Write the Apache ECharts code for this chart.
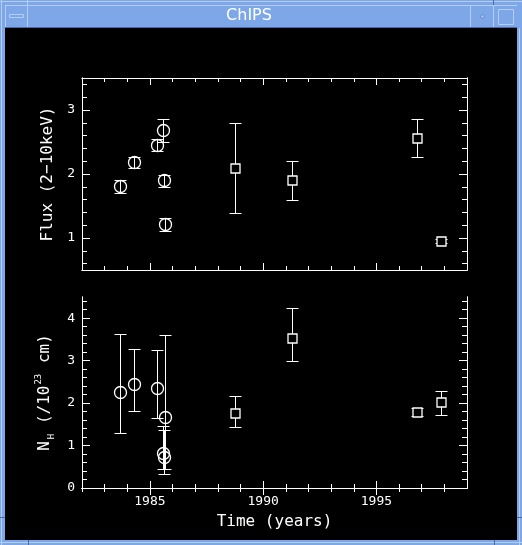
<!DOCTYPE html>
<html><head><meta charset="utf-8">
<script src="https://cdn.jsdelivr.net/npm/echarts@6/dist/echarts.min.js"></script>
<style>html,body{margin:0;padding:0;background:#000;}#c{width:522px;height:545px;}</style>
</head><body><div id="c"></div>
<script>
// ---------- data ----------
const circleYears = [1983.67, 1984.30, 1985.31, 1985.59, 1985.62, 1985.68];
const fluxCircle   = [1.81, 2.18, 2.46, 2.68, 1.90, 1.22];
const fluxCircleLo = [1.71, 2.09, 2.36, 2.50, 1.79, 1.11];
const fluxCircleHi = [1.91, 2.27, 2.55, 2.86, 1.99, 1.31];
const squareYears = [1988.74, 1991.29, 1996.78, 1997.83];
const fluxSquare   = [2.09, 1.90, 2.57, 0.95];
const fluxSquareLo = [1.39, 1.59, 2.27, 0.92];
const fluxSquareHi = [2.80, 2.20, 2.86, 0.98];
const nhCircle   = [2.27, 2.46, 2.35, 0.83, 0.72, 1.67];
const nhCircleLo = [1.30, 1.82, 1.66, 0.44, 0.32, 0.44];
const nhCircleHi = [3.64, 3.27, 3.26, 1.45, 1.36, 3.61];
const nhSquare   = [1.76, 3.54, 1.78, 2.02];
const nhSquareLo = [1.44, 2.99, 1.69, 1.73];
const nhSquareHi = [2.17, 4.25, 1.88, 2.29];
const yearMajor = [1985, 1990, 1995];
const yearMinor = [1982,1983,1984,1986,1987,1988,1989,1991,1992,1993,1994,1996,1997,1998];
const fluxMajor = [1, 2, 3];
const fluxMinor = [0.6,0.8,1.2,1.4,1.6,1.8,2.2,2.4,2.6,2.8,3.2,3.4];
const nhMajor = [0, 1, 2, 3, 4];
const nhMinor = [0.2,0.4,0.6,0.8,1.2,1.4,1.6,1.8,2.2,2.4,2.6,2.8,3.2,3.4,3.6,3.8,4.2,4.4];

// ---------- helpers ----------
const MONO = '"DejaVu Sans Mono", monospace';
const W = '#ffffff';
function zip(x, y, lo, hi){ return x.map((v,i)=>[v, y[i], lo[i], hi[i]]); }

function xAxis(grid, pos, vals, len, opts){
  return Object.assign({
    type:'value', gridIndex:grid, position:pos, min:1982, max:1999,
    axisLine:{show:true, lineStyle:{color:W, width:1}},
    axisTick:{show:true, inside:true, length:len, customValues:vals, lineStyle:{color:W, width:1}},
    axisLabel:{show:false}, splitLine:{show:false}
  }, opts||{});
}
function yAxis(grid, pos, min, max, vals, len, opts){
  return Object.assign({
    type:'value', gridIndex:grid, position:pos, min:min, max:max,
    axisLine:{show:true, lineStyle:{color:W, width:1}},
    axisTick:{show:true, inside:true, length:len, customValues:vals, lineStyle:{color:W, width:1}},
    axisLabel:{show:false}, splitLine:{show:false}
  }, opts||{});
}

function errRender(shape){
  return function(params, api){
    const x = api.value(0), y = api.value(1), lo = api.value(2), hi = api.value(3);
    const p = api.coord([x, y]);
    const pl = api.coord([x, lo]);
    const ph = api.coord([x, hi]);
    const cx = Math.round(p[0]) + 0.5;
    const cy = Math.round(p[1]) + 0.5;
    const yl = Math.round(pl[1]) + 0.5;
    const yh = Math.round(ph[1]) + 0.5;
    const cw = 6;
    const ls = {stroke:W, lineWidth:1, fill:null};
    const ch = [
      {type:'line', shape:{x1:cx, y1:yl, x2:cx, y2:yh}, style:ls},
      {type:'line', shape:{x1:cx-cw, y1:yh, x2:cx+cw, y2:yh}, style:ls},
      {type:'line', shape:{x1:cx-cw, y1:yl, x2:cx+cw, y2:yl}, style:ls}
    ];
    if (shape === 'circle') {
      ch.push({type:'circle', shape:{cx:cx, cy:cy, r:6}, style:{stroke:W, lineWidth:1.3, fill:null}});
    } else {
      ch.push({type:'rect', shape:{x:cx-4.5, y:cy-4.5, width:9, height:9}, style:{stroke:W, lineWidth:1.3, fill:'#000'}});
    }
    return {type:'group', children:ch};
  };
}
function errSeries(xi, yi, data, shape){
  return {type:'custom', xAxisIndex:xi, yAxisIndex:yi, data:data, renderItem:errRender(shape), animation:false, silent:true, clip:false};
}

const labelStyle = {show:true, color:W, fontFamily:MONO, fontSize:13, margin:7, formatter:function(v){ return String(v); }};

const xAxes = [
  // grid 0
  xAxis(0,'bottom',yearMajor,7),
  xAxis(0,'bottom',yearMinor,4),
  xAxis(0,'top',yearMajor,7),
  xAxis(0,'top',yearMinor,4),
  // grid 1
  xAxis(1,'bottom',yearMajor,7,{
    axisLabel:Object.assign({customValues:yearMajor}, labelStyle),
    name:'Time (years)', nameLocation:'middle', nameGap:26,
    nameTextStyle:{color:W, fontFamily:MONO, fontSize:16}
  }),
  xAxis(1,'bottom',yearMinor,4),
  xAxis(1,'top',yearMajor,7),
  xAxis(1,'top',yearMinor,4)
];
const yAxes = [
  yAxis(0,'left',0.5,3.5,fluxMajor,8,{
    axisLabel:Object.assign({customValues:fluxMajor}, labelStyle),
    name:'Flux (2\u221210keV)', nameLocation:'middle', nameRotate:90, nameGap:21,
    nameTextStyle:{color:W, fontFamily:MONO, fontSize:16}
  }),
  yAxis(0,'left',0.5,3.5,fluxMinor,5),
  yAxis(0,'right',0.5,3.5,fluxMajor,8),
  yAxis(0,'right',0.5,3.5,fluxMinor,5),
  yAxis(1,'left',0,4.5,nhMajor,8,{
    axisLabel:Object.assign({customValues:nhMajor}, labelStyle),
    name:'{n|N}{s|H}{n| (/10}{p|23}{n| cm)}', nameLocation:'middle', nameRotate:90, nameGap:21,
    nameTextStyle:{color:W, fontFamily:MONO, fontSize:16,
      rich:{
        n:{color:W, fontFamily:MONO, fontSize:16, lineHeight:22, verticalAlign:'middle'},
        s:{color:W, fontFamily:MONO, fontSize:9, lineHeight:22, verticalAlign:'bottom', padding:[0,0,0,2]},
        p:{color:W, fontFamily:MONO, fontSize:9, lineHeight:22, verticalAlign:'top', padding:[0,1,0,1]}
      }}
  }),
  yAxis(1,'left',0,4.5,nhMinor,5),
  yAxis(1,'right',0,4.5,nhMajor,8),
  yAxis(1,'right',0,4.5,nhMinor,5)
];

// window chrome
const BLUE = '#7ea7e8', LIGHT = '#b4cdf5', DARK = '#4a6aa6';
const chrome = [
  {type:'rect', shape:{x:0,y:0,width:522,height:545}, style:{fill:BLUE}, z:-10},
  {type:'rect', shape:{x:5,y:28,width:512,height:512}, style:{fill:'#000'}, z:-9},
  {type:'line', shape:{x1:0,y1:1.5,x2:522,y2:1.5}, style:{stroke:LIGHT,lineWidth:1}, z:-8},
  {type:'line', shape:{x1:1.5,y1:0,x2:1.5,y2:545}, style:{stroke:LIGHT,lineWidth:1}, z:-8},
  {type:'line', shape:{x1:5,y1:5.5,x2:517,y2:5.5}, style:{stroke:LIGHT,lineWidth:1}, z:-8},
  {type:'line', shape:{x1:5.5,y1:5,x2:5.5,y2:27}, style:{stroke:LIGHT,lineWidth:1}, z:-8},
  {type:'line', shape:{x1:5,y1:27.5,x2:517,y2:27.5}, style:{stroke:DARK,lineWidth:1}, z:-8},
  {type:'line', shape:{x1:27.5,y1:5,x2:27.5,y2:27}, style:{stroke:LIGHT,lineWidth:1}, z:-8},
  {type:'line', shape:{x1:470.5,y1:5,x2:470.5,y2:27}, style:{stroke:LIGHT,lineWidth:1}, z:-8},
  {type:'line', shape:{x1:493.5,y1:5,x2:493.5,y2:27}, style:{stroke:LIGHT,lineWidth:1}, z:-8},
  {type:'line', shape:{x1:27.5,y1:0,x2:27.5,y2:5}, style:{stroke:LIGHT,lineWidth:1}, z:-8},
  {type:'line', shape:{x1:493.5,y1:0,x2:493.5,y2:5}, style:{stroke:DARK,lineWidth:1}, z:-8},
  {type:'line', shape:{x1:519.5,y1:28,x2:519.5,y2:545}, style:{stroke:LIGHT,lineWidth:1}, z:-8},
  {type:'line', shape:{x1:0,y1:542.5,x2:522,y2:542.5}, style:{stroke:LIGHT,lineWidth:1}, z:-8},
  {type:'line', shape:{x1:517,y1:517.5,x2:522,y2:517.5}, style:{stroke:DARK,lineWidth:1}, z:-8},
  {type:'line', shape:{x1:494.5,y1:540,x2:494.5,y2:545}, style:{stroke:DARK,lineWidth:1}, z:-8},
  {type:'line', shape:{x1:28.5,y1:540,x2:28.5,y2:545}, style:{stroke:DARK,lineWidth:1}, z:-8},
  {type:'line', shape:{x1:0,y1:517.5,x2:5,y2:517.5}, style:{stroke:DARK,lineWidth:1}, z:-8},
  {type:'rect', shape:{x:9.5,y:14.5,width:14,height:3}, style:{fill:BLUE, stroke:LIGHT, lineWidth:1}, z:-7},
  {type:'rect', shape:{x:481,y:15,width:3,height:3}, style:{fill:LIGHT, stroke:DARK, lineWidth:0.5}, z:-7},
  {type:'rect', shape:{x:498.5,y:9.5,width:15,height:15}, style:{fill:BLUE, stroke:LIGHT, lineWidth:1}, z:-7},
  {type:'text', x:249, y:16, style:{text:'ChIPS', fill:'#ffffff', font:'16px "DejaVu Sans", sans-serif', align:'center', verticalAlign:'middle'}, z:-6}
];

const chart = echarts.init(document.getElementById('c'), null, {renderer:'canvas'});
chart.setOption({
  backgroundColor:'#000',
  animation:false,
  grid:[
    {left:82, top:78, width:385, height:192},
    {left:82, top:297, width:385, height:191}
  ],
  xAxis:xAxes,
  yAxis:yAxes,
  graphic:chrome,
  series:[
    errSeries(0,0,zip(circleYears,fluxCircle,fluxCircleLo,fluxCircleHi),'circle'),
    errSeries(0,0,zip(squareYears,fluxSquare,fluxSquareLo,fluxSquareHi),'square'),
    errSeries(4,4,zip(circleYears,nhCircle,nhCircleLo,nhCircleHi),'circle'),
    errSeries(4,4,zip(squareYears,nhSquare,nhSquareLo,nhSquareHi),'square')
  ]
});
</script></body></html>
